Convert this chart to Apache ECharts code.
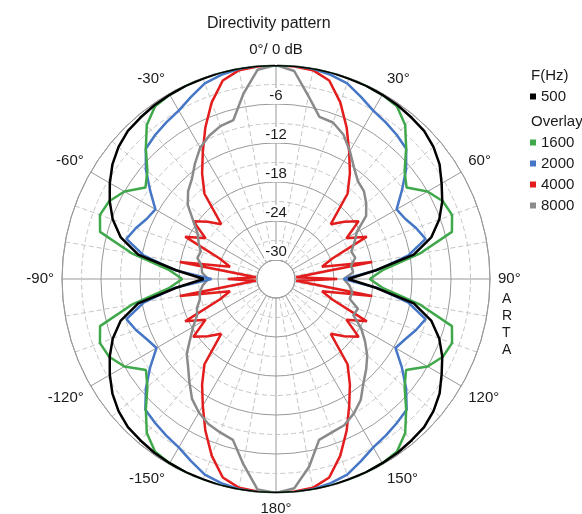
<!DOCTYPE html>
<html>
<head>
<meta charset="utf-8">
<script src="https://cdn.jsdelivr.net/npm/echarts@6/dist/echarts.min.js"></script>
<style>
html,body{margin:0;padding:0;background:#ffffff;}
#chart{width:582px;height:514px;}
</style>
</head>
<body>
<div id="chart"></div>
<script>
// ---- data (angle in degrees clockwise from front, level in dB) ----
const angles = [0,5,10,15,20,25,30,35,40,45,50,55,60,65,70,75,80,85,90,95,100,105,110,115,120,125,130,135,140,145,150,155,160,165,170,175,
  180,185,190,195,200,205,210,215,220,225,230,235,240,245,250,255,260,265,270,275,280,285,290,295,300,305,310,315,320,325,330,335,340,345,350,355];

const db500 = [0,0,0,0,-0.1,-0.1,-0.2,-0.3,-0.5,-0.7,-1.3,-2.2,-3.5,-4.7,-6.2,-8.2,-11.4,-17.5,
  -21.8,
  -17.5,-11.4,-8.2,-6.2,-4.7,-3.5,-2.2,-1.3,-0.7,-0.5,-0.3,-0.2,-0.1,-0.1,0,0,0,
  0,
  0,0,0,-0.1,-0.1,-0.2,-0.3,-0.5,-0.7,-1.3,-2.2,-3.4,-4.7,-6.2,-8.2,-11.4,-17.5,
  -21.8,
  -17.5,-11.4,-8.2,-6.2,-4.7,-3.4,-2.2,-1.3,-0.7,-0.5,-0.3,-0.2,-0.1,-0.1,0,0,0];

const db1600 = [0,0,0,0,0,-0.1,-0.2,-0.5,-2.0,-4.6,-7.1,-8.4,-6.0,-4.6,-4.1,-4.9,-10.5,-16.3,
  -18.5,
  -16.3,-10.5,-4.9,-4.1,-4.6,-6.0,-8.5,-7.1,-4.6,-2.0,-0.5,-0.2,-0.1,0,0,0,0,
  0,
  0,0,0,0,-0.1,-0.2,-0.5,-2.0,-4.6,-7.1,-8.5,-6.0,-4.6,-4.1,-4.9,-10.5,-16.3,
  -18.5,
  -16.3,-10.5,-4.9,-4.1,-4.6,-6.0,-8.4,-7.1,-4.6,-2.0,-0.5,-0.2,-0.1,0,0,0,0];

const db2000 = [0,0,-0.1,-0.4,-0.9,-2.0,-3.0,-3.5,-4.0,-4.6,-6.8,-9.3,-11.5,-11.0,-10.0,-9.1,-12.3,-17.3,
  -22.5,
  -17.3,-12.3,-9.1,-10.0,-11.0,-11.7,-9.3,-6.8,-4.5,-4.0,-3.5,-3.0,-2.0,-0.9,-0.4,-0.1,0,
  0,
  0,-0.1,-0.4,-0.9,-2.0,-3.0,-3.5,-4.0,-4.5,-6.8,-9.3,-11.7,-11.0,-10.0,-9.1,-12.3,-17.3,
  -23.0,
  -17.3,-12.3,-9.1,-10.0,-11.0,-11.5,-9.3,-6.8,-4.6,-4.0,-3.5,-3.0,-2.0,-0.9,-0.4,-0.1,0];

const db4000 = [0,-0.1,-0.3,-1.3,-4.0,-7.2,-10.4,-13.1,-15.8,-21.0,-19.2,-17.4,-20.4,-17.5,-23.7,-25.6,-17.9,-29.8,
  -23.5,
  -29.8,-17.9,-25.6,-23.7,-17.5,-20.4,-17.4,-19.2,-21.0,-15.8,-13.1,-10.4,-7.2,-4.0,-1.3,-0.3,-0.1,
  0,
  -0.1,-0.3,-1.3,-4.0,-7.2,-10.4,-13.1,-15.8,-21.0,-19.2,-17.4,-20.4,-17.5,-23.7,-25.6,-17.9,-29.8,
  -25.5,
  -29.8,-17.9,-25.6,-23.7,-17.5,-20.4,-17.4,-19.2,-21.0,-15.8,-13.1,-10.4,-7.2,-4.0,-1.3,-0.3,-0.1];

const db8000 = [0,-0.8,-4.3,-7.1,-7.3,-8.4,-10.2,-12.0,-13.3,-13.8,-14.8,-16.0,-18.6,-19.6,-20.6,-20.3,-21.2,-21.0,
  -22.5,
  -21.6,-21.0,-21.2,-19.5,-19.8,-17.8,-16.2,-14.6,-13.3,-12.0,-10.2,-9.0,-8.1,-7.8,-7.3,-3.6,-0.6,
  0,
  -0.4,-4.0,-7.3,-7.8,-8.3,-9.2,-10.4,-12.2,-13.8,-15.0,-16.8,-18.2,-19.5,-20.0,-20.8,-21.0,-21.6,
  -22.5,
  -21.5,-21.3,-20.4,-20.6,-19.8,-19.0,-17.4,-15.2,-13.8,-12.8,-11.2,-9.6,-8.6,-7.9,-7.6,-4.0,-0.6];

const names = ['500','1600','2000','4000','8000'];
const colors = {'500':'#000000','1600':'#3fa84b','2000':'#4677c6','4000':'#e31d1d','8000':'#8a8a8a'};
const levels = {'500':db500,'1600':db1600,'2000':db2000,'4000':db4000,'8000':db8000};
const drawOrder = ['4000','8000','2000','1600','500'];
const radiusTicksShown = [-30,-24,-18,-12,-6];

const FONT = 'Liberation Sans, Arial, sans-serif';
const TXT = '#1a1a1a';

function buildData(vals){
  const d = angles.map((a,i)=>[vals[i], a]);
  d.push([vals[0], 360]);
  return d;
}

const chart = echarts.init(document.getElementById('chart'), null, {renderer:'canvas'});

const series = drawOrder.map(n => ({
  name: n,
  type: 'line',
  coordinateSystem: 'polar',
  data: buildData(levels[n]),
  showSymbol: false,
  symbol: 'none',
  smooth: false,
  z: 3,
  lineStyle: {color: colors[n], width: 2.5},
  itemStyle: {color: colors[n]},
  animation: false
}));

const legendCommon = {
  orient: 'vertical',
  left: 530,
  icon: 'rect',
  itemWidth: 6,
  itemHeight: 6,
  itemTextGap: 3,
  itemGap: 6,
  padding: 0,
  selectedMode: false,
  textStyle: {fontSize: 15, color: TXT, fontFamily: FONT}
};

chart.setOption({
  animation: false,
  backgroundColor: '#ffffff',
  title: {
    text: 'Directivity pattern',
    left: 207, top: 16,
    padding: 0,
    textStyle: {fontSize: 16, fontWeight: 'normal', color: TXT, fontFamily: FONT}
  },
  legend: [
    Object.assign({}, legendCommon, {data: ['500'], top: 89}),
    Object.assign({}, legendCommon, {data: ['1600','2000','4000','8000'], top: 135})
  ],
  polar: {center: [276, 279], radius: [19, 214]},
  angleAxis: {
    type: 'value', min: 0, max: 360, interval: 30,
    startAngle: 90, clockwise: true, z: 1,
    axisLine: {show: true, lineStyle: {color: '#999999', width: 1}},
    axisTick: {show: false},
    axisLabel: {
      fontSize: 15, color: TXT, fontFamily: FONT, margin: 8,
      formatter: function(v){
        if (v === 0) return '0°/ 0 dB';
        if (v === 360) return '';
        return (v > 180 ? v - 360 : v) + '°';
      }
    },
    splitLine: {show: true, lineStyle: {color: '#999999', width: 1}},
    minorTick: {show: false, splitNumber: 3},
    minorSplitLine: {show: true, lineStyle: {color: '#c6c6c6', width: 1, type: [5, 3]}}
  },
  radiusAxis: {
    type: 'value', min: -30, max: 0, interval: 6, z: 2,
    axisLine: {show: false},
    axisTick: {show: false},
    axisLabel: {
      fontSize: 15, color: TXT, fontFamily: FONT, margin: 0,
      align: 'center', verticalAlign: 'bottom',
      backgroundColor: '#ffffff', padding: [0, 1, 1, 1],
      formatter: function(v){ return radiusTicksShown.indexOf(v) >= 0 ? String(v) : ''; }
    },
    splitLine: {show: true, lineStyle: {color: '#999999', width: 1}},
    minorTick: {show: false, splitNumber: 2},
    minorSplitLine: {show: true, lineStyle: {color: '#c6c6c6', width: 1, type: [5, 3]}}
  },
  graphic: [
    {type: 'text', left: 531, top: 68, style: {text: 'F(Hz)', fontSize: 15, fill: TXT, fontFamily: FONT}},
    {type: 'text', left: 531, top: 114, style: {text: 'Overlay', fontSize: 15, fill: TXT, fontFamily: FONT}},
    {type: 'text', left: 502, top: 291, style: {text: 'A\nR\nT\nA', fontSize: 14, lineHeight: 17, align: 'center', fill: TXT, fontFamily: FONT}}
  ],
  series: series
});
</script>
</body>
</html>
